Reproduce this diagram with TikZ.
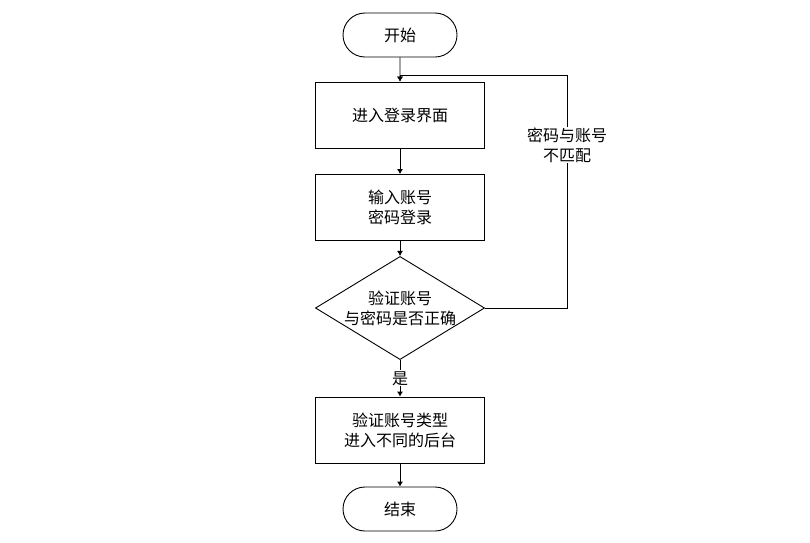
\documentclass[tikz,border=0pt]{standalone}
\usepackage{fontspec}
\setmainfont{Noto Sans CJK SC}
\usetikzlibrary{shapes}
\usetikzlibrary{shapes.geometric}
\usetikzlibrary{arrows.meta}
\usetikzlibrary {positioning}

\begin{document}
\begin{tikzpicture}[>={Latex[length=5pt,width=6pt]} ,auto ,node distance =80pt and 2cm ,on grid ,
    line width=0.9pt , font=\fontsize{16pt}{20pt}\selectfont ,
    terminal/.style ={ rounded rectangle , draw , minimum width =114pt, minimum height = 44pt , inner sep=0pt},
    process/.style ={ rectangle , draw , align=center , minimum width =169pt, minimum height = 66pt , inner sep=0pt},
    decision/.style ={ diamond , draw , align=center , aspect=1.64 , minimum width =169pt, minimum height = 103pt , inner sep=0pt}]
    \useasboundingbox (0pt,35pt) rectangle (810pt,-507pt);
    \node[terminal] (start) at (400pt,0pt) {开始};
    \node[process] (enter) [below = 80pt of start] {进入登录界面};
    \node[process] (input) [below = 92.5pt of enter] {输入账号\\密码登录};
    \node[decision] (check) [below = 100.5pt of input] {验证账号\\与密码是否正确};
    \node[process] (route) [below = 122pt of check] {验证账号类型\\进入不同的后台};
    \node[terminal] (end) [below = 79pt of route] {结束};
    \coordinate (loopb) at (567pt,-273pt);
    \coordinate (loopt) at (567pt,-40pt);
    \coordinate (join) at (400pt,-40pt);
    \path[->] (start) edge (enter);
    \path[->] (enter) edge (input);
    \path[->] (input) edge (check);
    \draw[->] (check) -- node [auto=false, fill=white, inner sep=1pt, pos=0.5] {是} (route);
    \path[->] (route) edge (end);
    \draw (check.east) -- (loopb) -- (loopt) -- (join);
    \draw[->] (join) -- (enter.north);
    \node[fill=white, align=center, inner sep=1pt] (nomatch) at (567pt,-110pt) {密码与账号\\不匹配};
\end{tikzpicture}
\end{document}
